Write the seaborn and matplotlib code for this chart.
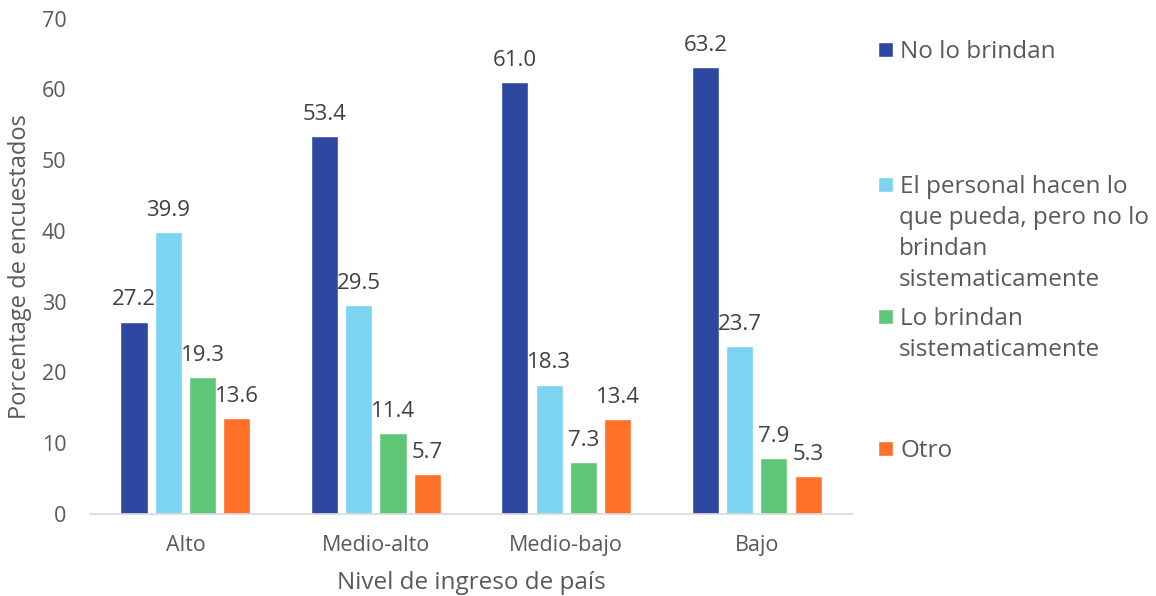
import matplotlib
matplotlib.use("Agg")
import matplotlib.pyplot as plt
import seaborn as sns
import pandas as pd

# data
niveles = ['Alto', 'Medio-alto', 'Medio-bajo', 'Bajo']
respuestas = ['No lo brindan',
              'El personal hacen lo\nque pueda, pero no lo\nbrindan\nsistematicamente',
              'Lo brindan\nsistematicamente',
              'Otro']
no_lo_brindan = [27.2, 53.4, 61.0, 63.2]
hacen_lo_que_pueda = [39.9, 29.5, 18.3, 23.7]
lo_brindan = [19.3, 11.4, 7.3, 7.9]
otro = [13.6, 5.7, 13.4, 5.3]
colores = ['#2E47A1', '#7BD4F1', '#5EC677', '#FF7128']

series = [no_lo_brindan, hacen_lo_que_pueda, lo_brindan, otro]
df = pd.DataFrame({
    'nivel': [n for s in series for n in niveles],
    'respuesta': [r for r, s in zip(respuestas, series) for _ in s],
    'valor': [v for s in series for v in s],
})

sns.set_style('white')
plt.rcParams['font.family'] = ['Open Sans', 'DejaVu Sans']
gris = '#595959'

fig = plt.figure(figsize=(11.56, 5.96), dpi=100)
ax = fig.add_axes([0.078, 0.1376, 0.659, 0.831])

sns.barplot(data=df, x='nivel', y='valor', hue='respuesta', order=niveles,
            hue_order=respuestas, palette=colores, width=0.72, saturation=1,
            ax=ax, legend=False)

# narrow the bars a bit so there is a gap between them
for bar in ax.patches:
    w = bar.get_width()
    bar.set_x(bar.get_x() + w * 0.105)
    bar.set_width(w * 0.79)

for cont in ax.containers:
    ax.bar_label(cont, fmt='%.1f', padding=8, fontsize=16, color='#404040')

ax.set_ylim(0, 70)
ax.set_xlim(-0.5, 3.5)
ax.set_yticks(range(0, 71, 10))
ax.tick_params(axis='both', labelsize=15.5, colors=gris, length=0)
ax.tick_params(axis='y', pad=17)
ax.tick_params(axis='x', pad=15)
ax.set_xlabel('Nivel de ingreso de país', fontsize=17.5, color=gris, labelpad=11)
ax.set_ylabel('Porcentage de encuestados', fontsize=17, color=gris, labelpad=7)
for side in ['top', 'right', 'left']:
    ax.spines[side].set_visible(False)
ax.spines['bottom'].set_color('#D9D9D9')
ax.spines['bottom'].set_linewidth(1.2)

# one legend per entry, placed like the Excel legend (marker on first line)
legend_y = [52, 187, 319, 451]   # pixel rows of the first text line
line_px = 31
for cont, label, y in zip(ax.containers, respuestas, legend_y):
    lineas = label.split('\n')
    fig.legend([cont], [lineas[0]], loc='center left',
               bbox_to_anchor=(878 / 1156, 1 - y / 596),
               frameon=False, fontsize=17.5, handlelength=0.62,
               handleheight=0.62, handletextpad=0.3, borderpad=0,
               borderaxespad=0, labelcolor=gris)
    for k, resto in enumerate(lineas[1:], start=1):
        fig.text(899 / 1156, 1 - (y + k * line_px) / 596, resto,
                 fontsize=17.5, color=gris, va='center', ha='left')

fig.savefig('out.png', dpi=100)
